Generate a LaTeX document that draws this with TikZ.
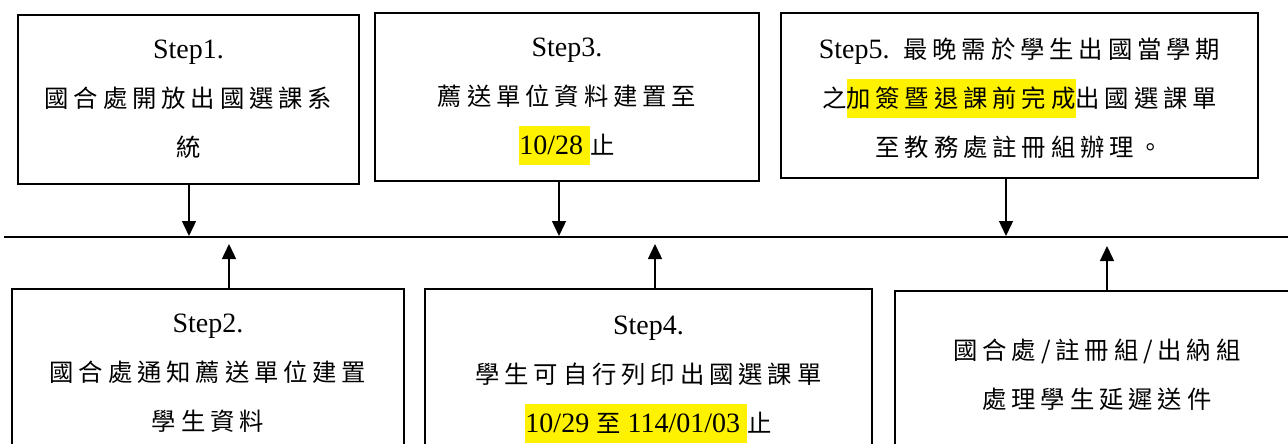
\documentclass[tikz,border=0pt]{standalone}
\usepackage{fontspec}
\setmainfont{Liberation Serif}
\newfontfamily\cjkf{Noto Sans CJK TC}[Scale=0.87,LetterSpace=20]
\usetikzlibrary{arrows.meta}
\newcommand\C[1]{{\cjkf #1}}
\newcommand\hlt[1]{{\setlength\fboxsep{0pt}\colorbox{yellow}{\rule[-10.5pt]{0pt}{39pt}#1}}}
\newcommand\up[1]{\rule{0pt}{#1}}
\begin{document}
\begin{tikzpicture}[x=1pt,y=-1pt,
  box/.style={draw, line width=1.6pt, inner sep=0pt, align=center,
    font=\fontsize{28}{49}\selectfont},
  arr/.style={line width=1.4pt, -{Triangle[width=14pt,length=15pt]}}]
\useasboundingbox (0,0) rectangle (1288,444);
\clip (0,0) rectangle (1288,444);
% top row
\node[box, minimum width=341pt, minimum height=169pt] (s1) at (188.5,99.5)
  {Step1.\\\C{國合處開放出國選課系}\\\C{統}};
\node[box, minimum width=384pt, minimum height=168pt] (s3) at (567,97)
  {\up{28pt}Step3.\\\C{薦送單位資料建置至}\\\hlt{10/28\ }\C{止}};
\node[box, minimum width=477pt, minimum height=165pt] (s5) at (1019.5,95.5)
  {\up{26pt}Step5.\ \ \C{最晚需於學生出國當學期}\\\C{之}\hlt{\C{加簽暨退課前完成}}\C{出國選課單}\\\C{至教務處註冊組辦理。}};
% bottom row
\node[box, minimum width=392pt, minimum height=169pt] (s2) at (208,373.5)
  {Step2.\\\C{國合處通知薦送單位建置}\\\C{學生資料}};
\node[box, minimum width=447pt, minimum height=169pt] (s4) at (648.5,373.5)
  {\up{30pt}Step4.\\\C{學生可自行列印出國選課單}\\\hlt{10/29 \C{至} 114/01/03\ }\C{止}};
\node[box, minimum width=404pt, minimum height=167pt] (s6) at (1097,374.5)
  {\C{國合處/註冊組/出納組}\\\C{處理學生延遲送件}};
% timeline
\coordinate (l0) at (4,237);
\coordinate (l1) at (1288,237);
\draw[line width=2pt] (l0) -- (l1);
% arrows down
\coordinate (d1) at (189,236);
\coordinate (d3) at (559,236);
\coordinate (d5) at (1006,236);
\draw[arr] (s1.south -| d1) -- (d1);
\draw[arr] (s3.south -| d3) -- (d3);
\draw[arr] (s5.south -| d5) -- (d5);
% arrows up
\coordinate (u2) at (229,244);
\coordinate (u4) at (655,244);
\coordinate (u6) at (1107,246);
\draw[arr] (s2.north -| u2) -- (u2);
\draw[arr] (s4.north -| u4) -- (u4);
\draw[arr] (s6.north -| u6) -- (u6);
\end{tikzpicture}
\end{document}
